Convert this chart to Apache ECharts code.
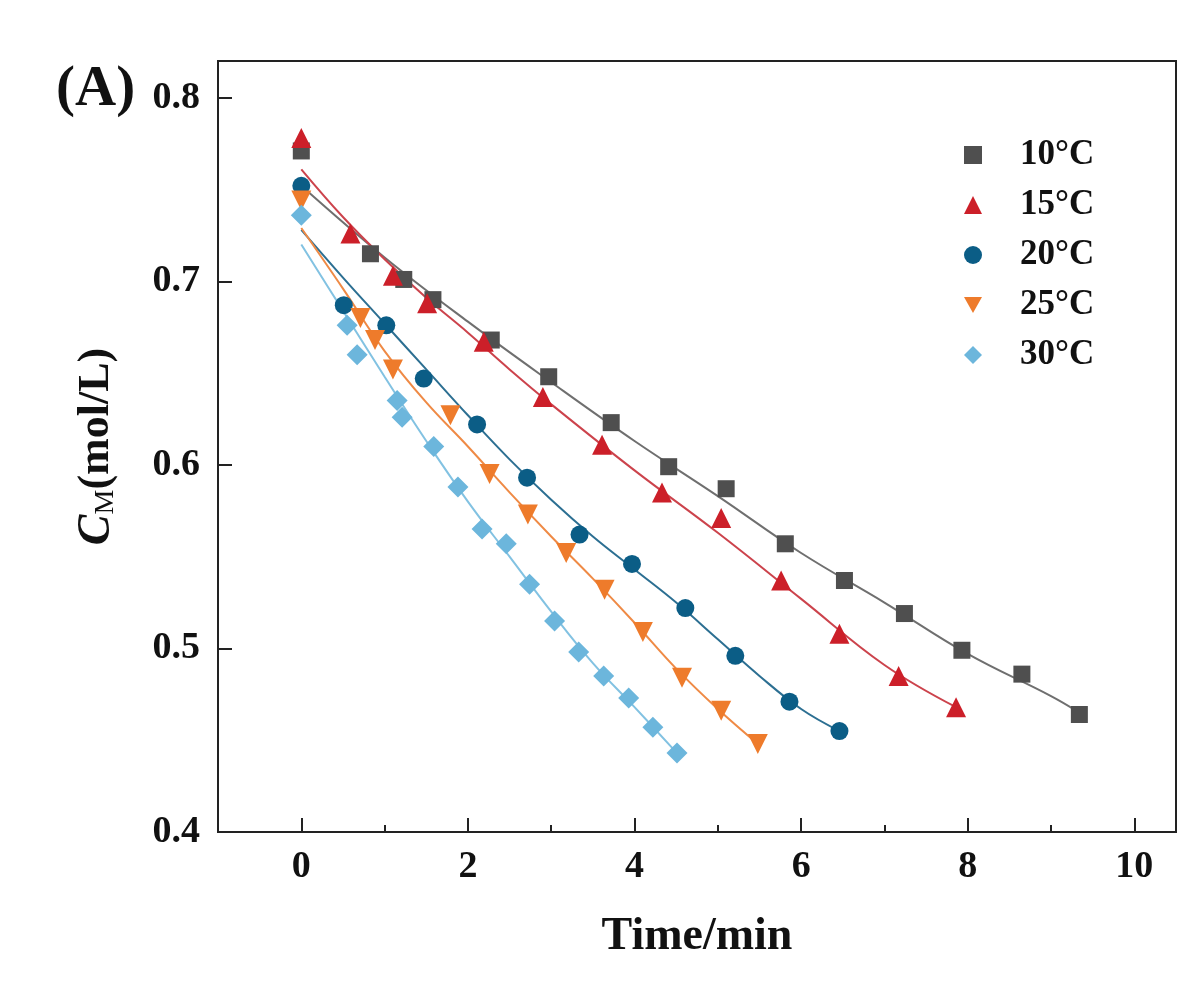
<!DOCTYPE html>
<html>
<head>
<meta charset="utf-8">
<script src="https://cdn.jsdelivr.net/npm/echarts@6/dist/echarts.min.js"></script>
<style>
html,body{margin:0;padding:0;background:#fff;}
#main{width:1200px;height:989px;}
</style>
</head>
<body>
<div id="main"></div>
<script>
// ---- data ----
const seriesNames = ['10°C', '15°C', '20°C', '25°C', '30°C'];
const xTicks = [0, 2, 4, 6, 8, 10];
const xMinorTicks = [1, 3, 5, 7, 9];
const yTicks = [0.4, 0.5, 0.6, 0.7, 0.8];

const data10 = [[0,0.771],[0.83,0.715],[1.23,0.701],[1.58,0.690],[2.28,0.668],[2.97,0.648],[3.72,0.623],[4.41,0.599],[5.10,0.587],[5.81,0.557],[6.52,0.537],[7.24,0.519],[7.93,0.499],[8.65,0.486],[9.34,0.464]];
const data15 = [[0,0.778],[0.59,0.726],[1.10,0.703],[1.51,0.688],[2.19,0.667],[2.90,0.637],[3.61,0.611],[4.33,0.585],[5.04,0.571],[5.76,0.537],[6.46,0.508],[7.17,0.485],[7.86,0.468]];
const data20 = [[0,0.752],[0.51,0.687],[1.02,0.676],[1.47,0.647],[2.11,0.622],[2.71,0.593],[3.34,0.562],[3.97,0.546],[4.61,0.522],[5.21,0.496],[5.86,0.471],[6.46,0.455]];
const data25 = [[0,0.744],[0.71,0.680],[0.885,0.668],[1.10,0.652],[1.79,0.627],[2.26,0.595],[2.72,0.573],[3.18,0.552],[3.64,0.532],[4.10,0.509],[4.57,0.484],[5.04,0.466],[5.48,0.448]];
const data30 = [[0,0.736],[0.55,0.676],[0.67,0.660],[1.15,0.635],[1.21,0.626],[1.59,0.610],[1.88,0.588],[2.17,0.565],[2.46,0.557],[2.74,0.535],[3.04,0.515],[3.33,0.498],[3.63,0.485],[3.93,0.473],[4.22,0.457],[4.51,0.443]];

// fitted curves
const fit10 = [[0,0.752],[1,0.713],[2,0.678],[3,0.645],[4,0.613],[5,0.583],[6,0.552],[7,0.525],[8,0.497],[9,0.474],[9.34,0.465]];
const fit15 = [[0,0.761],[0.5,0.735],[1,0.712],[1.5,0.691],[2,0.672],[2.5,0.652],[3,0.633],[4,0.597],[5,0.563],[6,0.527],[7,0.491],[7.86,0.468]];
const fit20 = [[0,0.728],[0.5,0.702],[1,0.677],[1.5,0.652],[2,0.627],[2.5,0.603],[3,0.581],[3.5,0.561],[4,0.543],[4.5,0.525],[5,0.505],[5.5,0.485],[6,0.467],[6.46,0.455]];
const fit25 = [[0,0.729],[0.5,0.696],[1,0.662],[1.5,0.634],[2,0.610],[2.5,0.585],[3,0.561],[3.5,0.538],[4,0.514],[4.5,0.489],[5,0.467],[5.48,0.448]];
const fit30 = [[0,0.720],[0.5,0.684],[1,0.648],[1.5,0.613],[2,0.580],[2.5,0.550],[3,0.520],[3.5,0.492],[4,0.468],[4.51,0.443]];

const markerData = [data10, data15, data20, data25, data30];
const fitData = [fit10, fit15, fit20, fit25, fit30];
const markerColors = ['#4f4f4f', '#cc1f29', '#0b5d86', '#ee7b2b', '#6cb6dc'];
const lineColors = ['#6f6f6f', '#cc434c', '#2c6f92', '#ef8a45', '#82c2e2'];
const symbols = ['rect', 'triangle', 'circle', 'triangle', 'diamond'];
const symbolRotates = [0, 0, 0, 180, 0];
const symbolSizes = [17, 20, 18, 20, 21];
const legendIcons = ['rect', 'triangle', 'circle', 'path://M0,0 L10,0 L5,9 Z', 'diamond'];

const FONT = '"Liberation Serif", "Times New Roman", serif';

const series = [];
for (let i = 0; i < 5; i++) {
  series.push({
    name: seriesNames[i] + ' fit',
    type: 'line',
    data: fitData[i],
    smooth: 0.4,
    showSymbol: false,
    symbol: 'none',
    lineStyle: { color: lineColors[i], width: 2 },
    z: 2,
    silent: true
  });
}
for (let i = 0; i < 5; i++) {
  series.push({
    name: seriesNames[i],
    type: 'scatter',
    data: markerData[i],
    symbol: symbols[i],
    symbolRotate: symbolRotates[i],
    symbolSize: symbolSizes[i],
    itemStyle: { color: markerColors[i], opacity: 1 },
    z: 5
  });
}

const chart = echarts.init(document.getElementById('main'));
chart.setOption({
  animation: false,
  backgroundColor: '#ffffff',
  textStyle: { fontFamily: FONT },
  grid: {
    left: 218, right: 24, top: 61, bottom: 157,
    show: true, borderColor: '#222', borderWidth: 2, backgroundColor: 'transparent'
  },
  legend: {
    data: seriesNames.map(function (n, i) { return { name: n, icon: legendIcons[i] }; }),
    orient: 'vertical',
    left: 959,
    top: 132,
    itemWidth: 18,
    itemHeight: 18,
    itemGap: 14,
    textStyle: { fontFamily: FONT, fontWeight: 'bold', fontSize: 35, color: '#111', lineHeight: 36, padding: [0, 0, 0, 33] },
    selectedMode: false
  },
  xAxis: [{
    type: 'value',
    min: -1, max: 10.5,
    position: 'bottom',
    axisLine: { show: false, onZero: false },
    splitLine: { show: false },
    axisTick: { show: true, inside: true, length: 14, lineStyle: { color: '#222', width: 2 }, customValues: xTicks },
    axisLabel: { show: true, customValues: xTicks, margin: 16, fontFamily: FONT, fontWeight: 'bold', fontSize: 38, color: '#111' },
    name: 'Time/min',
    nameLocation: 'middle',
    nameGap: 82,
    nameTextStyle: { fontFamily: FONT, fontWeight: 'bold', fontSize: 46, color: '#111' }
  }, {
    type: 'value',
    min: -1, max: 10.5,
    position: 'bottom',
    offset: 0,
    axisLine: { show: false, onZero: false },
    splitLine: { show: false },
    axisTick: { show: true, inside: true, length: 7, lineStyle: { color: '#222', width: 2 }, customValues: xMinorTicks },
    axisLabel: { show: false }
  }],
  yAxis: {
    type: 'value',
    min: 0.4, max: 0.82,
    position: 'left',
    axisLine: { show: false, onZero: false },
    splitLine: { show: false },
    axisTick: { show: true, inside: true, length: 14, lineStyle: { color: '#222', width: 2 }, customValues: yTicks },
    axisLabel: {
      show: true, customValues: yTicks, margin: 18,
      fontFamily: FONT, fontWeight: 'bold', fontSize: 38, color: '#111',
      formatter: function (v) { return v.toFixed(1); }
    },
    name: '{c|C}{s|M}{n|(mol/L)}',
    nameLocation: 'middle',
    nameRotate: 90,
    nameGap: 98,
    nameTextStyle: {
      fontFamily: FONT, fontWeight: 'bold', fontSize: 44, color: '#111',
      rich: {
        c: { fontFamily: FONT, fontWeight: 'bold', fontStyle: 'italic', fontSize: 46, color: '#111' },
        s: { fontFamily: FONT, fontWeight: 'normal', fontSize: 28, color: '#111', verticalAlign: 'bottom', lineHeight: 30 },
        n: { fontFamily: FONT, fontWeight: 'bold', fontSize: 44, color: '#111' }
      }
    }
  },
  graphic: [{
    type: 'text',
    left: 56,
    top: 62,
    style: { text: '(A)', font: 'bold 57px "Liberation Serif", serif', fill: '#111' }
  }],
  series: series
});
</script>
</body>
</html>
